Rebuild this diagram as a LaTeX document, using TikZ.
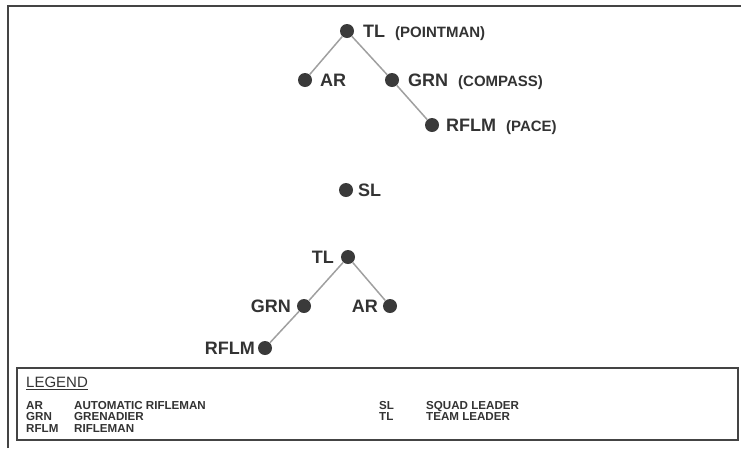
\documentclass[tikz,border=0pt]{standalone}
\usepackage{fontspec}
\setmainfont{Liberation Sans}
\usetikzlibrary{calc}
\definecolor{dotc}{HTML}{3A3A3A}
\definecolor{linec}{HTML}{A0A0A0}
\definecolor{txtc}{HTML}{333333}
\definecolor{framec}{HTML}{444444}
\newcommand{\paren}[1]{\hspace{10pt}{\fontsize{15}{17}\selectfont #1}}
\begin{document}
\begin{tikzpicture}[x=1pt,y=-1pt,
  dot/.style={circle,fill=dotc,inner sep=0pt,minimum size=14pt},
  conn/.style={draw=linec,line width=1.5pt},
  lbl/.style={inner sep=0pt,text=txtc,font=\fontsize{18}{20}\selectfont\bfseries},
  lgd/.style={inner sep=0pt,text=txtc,anchor=base west,font=\fontsize{11.6}{13}\selectfont\bfseries},
  lgdtitle/.style={inner sep=0pt,text=txtc,anchor=base west,font=\fontsize{15}{17}\selectfont},
  frame/.style={draw=framec,line width=2pt}
]
\useasboundingbox (0,0) rectangle (741,448);
% outer frame (cropped)
\draw[frame] (8,448) -- (8,6) -- (741,6);
% legend box
\draw[frame] (17,368) rectangle (738,440);

% top formation
\node[dot] (t1) at (347,31) {};
\node[dot] (a1) at (305,80) {};
\node[dot] (g1) at (392,80) {};
\node[dot] (r1) at (432,125) {};
\draw[conn] (t1) -- (a1);
\draw[conn] (t1) -- (g1);
\draw[conn] (g1) -- (r1);
\node[lbl,anchor=base west] (t1l) at ($(t1.center)+(16,6.5)$) {TL\paren{(POINTMAN)}};
\node[lbl,anchor=base west] (a1l) at ($(a1.center)+(15,6.5)$) {AR};
\node[lbl,anchor=base west] (g1l) at ($(g1.center)+(16,6.5)$) {GRN\paren{(COMPASS)}};
\node[lbl,anchor=base west] (r1l) at ($(r1.center)+(14,6.5)$) {RFLM\paren{(PACE)}};

% squad leader
\node[dot] (sl) at (346,190) {};
\node[lbl,anchor=base west] (sll) at ($(sl.center)+(12,6.5)$) {SL};

% bottom formation
\node[dot] (t2) at (348,257) {};
\node[dot] (g2) at (304,306) {};
\node[dot] (a2) at (390,306) {};
\node[dot] (r2) at (265,348) {};
\draw[conn] (t2) -- (g2);
\draw[conn] (t2) -- (a2);
\draw[conn] (g2) -- (r2);
\node[lbl,anchor=base east] (t2l) at ($(t2.center)+(-14,6.5)$) {TL};
\node[lbl,anchor=base east] (g2l) at ($(g2.center)+(-13,6.5)$) {GRN};
\node[lbl,anchor=base east] (a2l) at ($(a2.center)+(-12,6.5)$) {AR};
\node[lbl,anchor=base east] (r2l) at ($(r2.center)+(-10,6.5)$) {RFLM};

% legend
\node[lgdtitle] (lt) at (26,387.5) {\underline{LEGEND}};
\node[lgd] (k1) at (26,409) {AR};
\node[lgd] (v1) at (74,409) {AUTOMATIC RIFLEMAN};
\node[lgd] (k2) at (26,420.5) {GRN};
\node[lgd] (v2) at (74,420.5) {GRENADIER};
\node[lgd] (k3) at (26,432) {RFLM};
\node[lgd] (v3) at (74,432) {RIFLEMAN};
\node[lgd] (k4) at (379,409) {SL};
\node[lgd] (v4) at (426,409) {SQUAD LEADER};
\node[lgd] (k5) at (379,420.5) {TL};
\node[lgd] (v5) at (426,420.5) {TEAM LEADER};
\end{tikzpicture}
\end{document}
